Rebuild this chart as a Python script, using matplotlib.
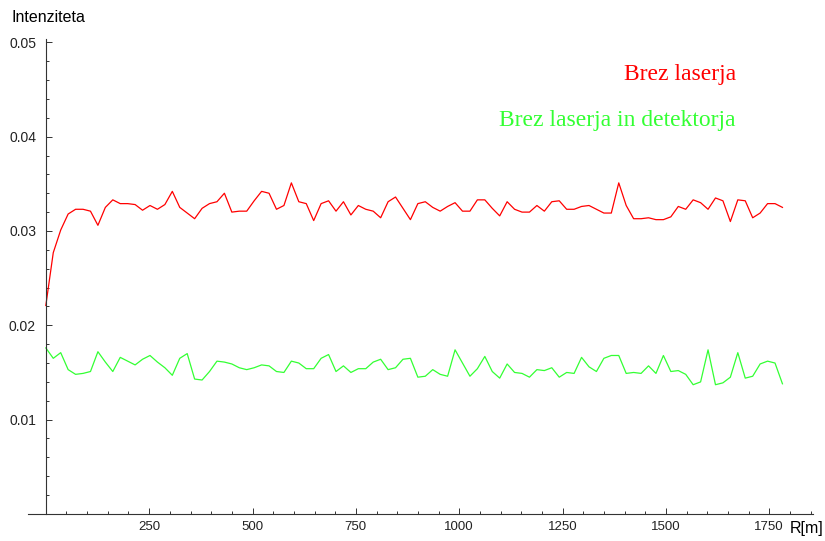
import numpy as np
import matplotlib
matplotlib.use("Agg")
import matplotlib.pyplot as plt
from matplotlib.ticker import MultipleLocator, FixedLocator

# razdalja R [m], vzorci na vsakih 18 m
r = np.arange(100) * 18

brez_laserja = [
    0.0221, 0.0277, 0.0301, 0.0318, 0.0323, 0.0323, 0.0321, 0.0306, 0.0325, 0.0333,
    0.0329, 0.0329, 0.0328, 0.0322, 0.0327, 0.0323, 0.0328, 0.0342, 0.0325, 0.0319,
    0.0313, 0.0324, 0.0329, 0.0331, 0.0340, 0.0320, 0.0321, 0.0321, 0.0332, 0.0342,
    0.0340, 0.0323, 0.0327, 0.0351, 0.0331, 0.0329, 0.0311, 0.0329, 0.0332, 0.0321,
    0.0331, 0.0317, 0.0327, 0.0323, 0.0321, 0.0314, 0.0331, 0.0336, 0.0324, 0.0312,
    0.0329, 0.0331, 0.0325, 0.0321, 0.0326, 0.0330, 0.0321, 0.0321, 0.0333, 0.0333,
    0.0324, 0.0316, 0.0331, 0.0323, 0.0320, 0.0320, 0.0327, 0.0321, 0.0331, 0.0332,
    0.0323, 0.0323, 0.0326, 0.0327, 0.0323, 0.0319, 0.0319, 0.0351, 0.0327, 0.0313,
    0.0313, 0.0314, 0.0312, 0.0312, 0.0315, 0.0326, 0.0323, 0.0333, 0.0330, 0.0323,
    0.0335, 0.0332, 0.0310, 0.0333, 0.0332, 0.0314, 0.0319, 0.0329, 0.0329, 0.0325,
]

brez_laserja_det = [
    0.0176, 0.0165, 0.0171, 0.0153, 0.0148, 0.0149, 0.0151, 0.0172, 0.0161, 0.0151,
    0.0166, 0.0162, 0.0158, 0.0164, 0.0168, 0.0161, 0.0155, 0.0147, 0.0165, 0.0170,
    0.0143, 0.0142, 0.0151, 0.0162, 0.0161, 0.0159, 0.0155, 0.0153, 0.0155, 0.0158,
    0.0157, 0.0151, 0.0150, 0.0162, 0.0160, 0.0154, 0.0154, 0.0165, 0.0169, 0.0151,
    0.0157, 0.0150, 0.0154, 0.0154, 0.0161, 0.0164, 0.0153, 0.0155, 0.0164, 0.0165,
    0.0145, 0.0146, 0.0153, 0.0148, 0.0146, 0.0174, 0.0160, 0.0146, 0.0154, 0.0167,
    0.0151, 0.0144, 0.0159, 0.0150, 0.0149, 0.0145, 0.0153, 0.0152, 0.0155, 0.0145,
    0.0150, 0.0149, 0.0166, 0.0156, 0.0151, 0.0165, 0.0168, 0.0168, 0.0149, 0.0150,
    0.0149, 0.0157, 0.0149, 0.0168, 0.0151, 0.0152, 0.0148, 0.0137, 0.0140, 0.0174,
    0.0137, 0.0139, 0.0145, 0.0171, 0.0144, 0.0146, 0.0159, 0.0162, 0.0160, 0.0138,
]

x_ticks = [250, 500, 750, 1000, 1250, 1500, 1750]
y_ticks = [0.01, 0.02, 0.03, 0.04, 0.05]

fig = plt.figure(figsize=(8.25, 5.41), dpi=100)
ax = fig.add_axes([0.034, 0.050, 0.951, 0.877])

ax.plot(r, brez_laserja, color=(1, 0, 0), lw=0.9)
ax.plot(r, brez_laserja_det, color=(0.2, 1, 0.2), lw=0.9)

ax.set_xlim(-43, 1855)
ax.set_ylim(0, 0.0503)

# osi skozi izhodisce, kot v Mathematici
axis_col = "#333333"
ax.spines["left"].set_position(("data", 0))
ax.spines["bottom"].set_position(("data", 0))
ax.spines["top"].set_visible(False)
ax.spines["right"].set_visible(False)
ax.spines["left"].set_bounds(0, 0.0503)
for s in ("left", "bottom"):
    ax.spines[s].set_color(axis_col)
    ax.spines[s].set_linewidth(0.8)

ax.xaxis.set_major_locator(FixedLocator(x_ticks))
ax.xaxis.set_minor_locator(MultipleLocator(50))
ax.yaxis.set_major_locator(FixedLocator(y_ticks))
ax.yaxis.set_minor_locator(MultipleLocator(0.002))
ax.set_xticklabels([str(t) for t in x_ticks])
ax.set_yticklabels(["%.2f" % t for t in y_ticks])

ax.tick_params(which="both", direction="in", color=axis_col, width=0.7)
ax.tick_params(which="major", length=4.5)
ax.tick_params(which="minor", length=2.5)
ax.tick_params(axis="x", which="major", labelsize=9.5, pad=5)
ax.tick_params(axis="y", which="major", labelsize=10, pad=7)
for lab in ax.get_xticklabels() + ax.get_yticklabels():
    lab.set_family("Liberation Sans")
    lab.set_color("#222222")

fig.text(0.014, 0.967, "Intenziteta", fontsize=11.5, family="Liberation Sans",
         va="center", ha="left")
fig.text(0.998, 0.010, "R[m]", fontsize=11.5, family="Liberation Sans",
         va="bottom", ha="right")

fig.text(0.892, 0.862, "Brez laserja", color=(1, 0, 0), fontsize=17,
         family="Liberation Serif", ha="right", va="center")
fig.text(0.892, 0.777, "Brez laserja in detektorja", color=(0.2, 1, 0.2), fontsize=17,
         family="Liberation Serif", ha="right", va="center")

fig.savefig("out.png", dpi=100)
